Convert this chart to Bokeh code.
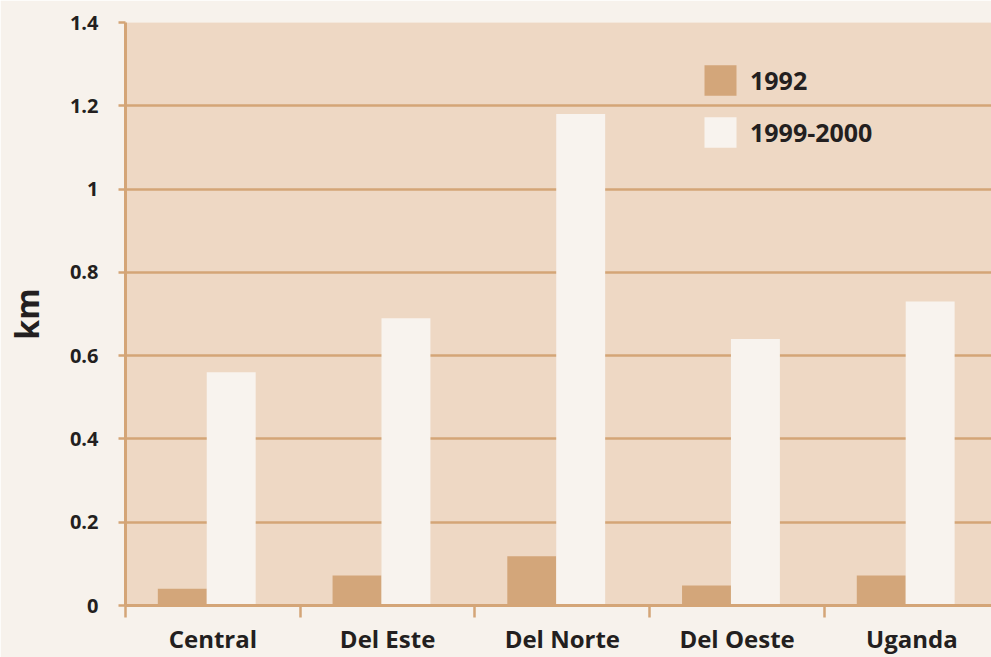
from bokeh.plotting import figure
from bokeh.models import Range1d, FixedTicker, ColumnDataSource
from bokeh.embed import file_html
from bokeh.resources import INLINE

regions = ["Central", "Del Este", "Del Norte", "Del Oeste", "Uganda"]
v1992 = [0.04, 0.072, 0.118, 0.048, 0.072]
v1999 = [0.56, 0.69, 1.18, 0.64, 0.73]
y_ticks = [0, 0.2, 0.4, 0.6, 0.8, 1.0, 1.2, 1.4]
y_tick_labels = ["0", "0.2", "0.4", "0.6", "0.8", "1", "1.2", "1.4"]
series_names = ["1992", "1999-2000"]

TXT = "#231f20"
TAN = "#d4a577"
FONT = "Open Sans"

idx = list(range(len(regions)))
src = ColumnDataSource(dict(
    x1=[i + 0.325 for i in idx],
    x2=[i + 0.605 for i in idx],
    v1992=v1992,
    v1999=v1999,
))

p = figure(width=991, height=657,
           x_range=Range1d(0, 4.956), y_range=Range1d(0, 1.4),
           output_backend="svg", toolbar_location=None,
           min_border_left=125, min_border_right=0,
           min_border_top=22, min_border_bottom=52,
           background_fill_color="#eed8c4", border_fill_color="#f7f2ec",
           outline_line_color=None)

p.vbar(x="x1", top="v1992", width=0.28, source=src, fill_color="#d3a67a",
       line_color=None, legend_label=series_names[0])
p.vbar(x="x2", top="v1999", width=0.28, source=src, fill_color="#f8f3ee",
       line_color=None, legend_label=series_names[1])

# y axis
p.yaxis.ticker = FixedTicker(ticks=y_ticks)
p.yaxis.major_label_overrides = {t: l for t, l in zip(y_ticks, y_tick_labels)}
p.yaxis.major_label_text_font = FONT
p.yaxis.major_label_text_font_style = "bold"
p.yaxis.major_label_text_font_size = "20px"
p.yaxis.major_label_text_color = TXT
p.yaxis.major_label_standoff = 20
p.yaxis.major_tick_out = 7
p.yaxis.major_tick_in = 0
p.yaxis.minor_tick_line_color = None
p.yaxis.major_tick_line_color = TAN
p.yaxis.major_tick_line_width = 2.5
p.yaxis.axis_line_color = TAN
p.yaxis.axis_line_width = 3
p.yaxis.axis_label = "km"
p.yaxis.axis_label_text_font = FONT
p.yaxis.axis_label_text_font_style = "bold"
p.yaxis.axis_label_text_font_size = "32px"
p.yaxis.axis_label_text_color = TXT
p.yaxis.axis_label_standoff = 19

# x axis
p.xaxis.ticker = FixedTicker(ticks=[i + 0.5 for i in idx], minor_ticks=idx)
p.xaxis.major_label_overrides = {i + 0.5: r for i, r in zip(idx, regions)}
p.xaxis.major_label_text_font = FONT
p.xaxis.major_label_text_font_style = "bold"
p.xaxis.major_label_text_font_size = "24px"
p.xaxis.major_label_text_color = TXT
p.xaxis.major_label_standoff = 4
p.xaxis.major_tick_line_color = None
p.xaxis.major_tick_out = 0
p.xaxis.major_tick_in = 0
p.xaxis.minor_tick_out = 12
p.xaxis.minor_tick_in = 0
p.xaxis.minor_tick_line_color = TAN
p.xaxis.minor_tick_line_width = 2.5
p.xaxis.axis_line_color = TAN
p.xaxis.axis_line_width = 3

p.xgrid.grid_line_color = None
p.ygrid.ticker = FixedTicker(ticks=y_ticks)
p.ygrid.grid_line_color = TAN
p.ygrid.grid_line_width = 2.5

lg = p.legend[0]
lg.location = (575, 454)
lg.padding = 0
lg.margin = 0
lg.spacing = 14
lg.glyph_width = 40
lg.glyph_height = 38
lg.label_height = 38
lg.label_standoff = 10
lg.label_text_font = FONT
lg.label_text_font_style = "bold"
lg.label_text_font_size = "25px"
lg.label_text_color = TXT
lg.border_line_color = None
lg.background_fill_alpha = 0

open("out.html", "w").write(file_html(p, INLINE))
